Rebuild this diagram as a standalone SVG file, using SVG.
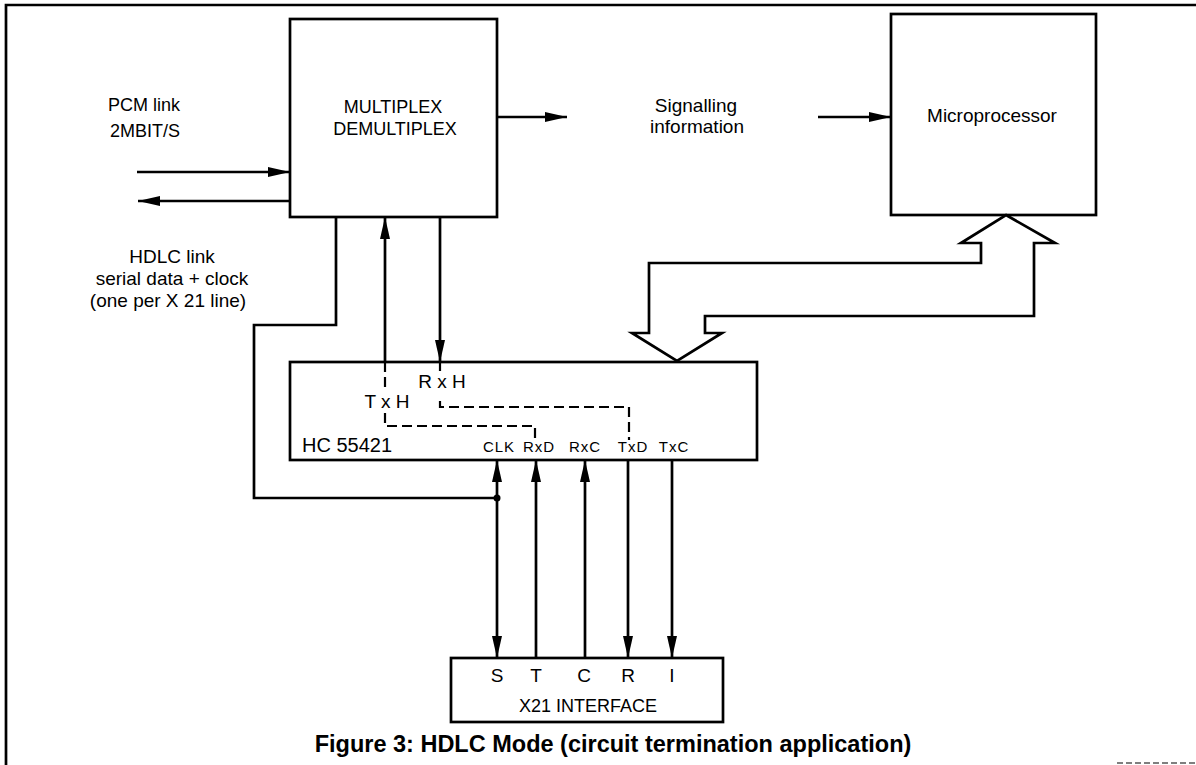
<svg xmlns="http://www.w3.org/2000/svg" width="1196" height="765" viewBox="0 0 1196 765">
<style>
.box{fill:#fff;stroke:#000;stroke-width:2.7}
.ln{fill:none;stroke:#000;stroke-width:2.7}
.dash{fill:none;stroke:#000;stroke-width:2.2;stroke-dasharray:10 5}
.t{font-family:"Liberation Sans",Arial,sans-serif;font-size:19px;fill:#000}
.m{text-anchor:middle}
.pin{font-family:"Liberation Sans",Arial,sans-serif;font-size:15px;fill:#000;letter-spacing:1px}
.cap{font-family:"Liberation Sans",Arial,sans-serif;font-size:23.5px;font-weight:bold;fill:#000;text-anchor:middle}
</style>
<defs>
<marker id="ah" viewBox="0 0 22 10" refX="22" refY="5" markerWidth="22" markerHeight="10" markerUnits="userSpaceOnUse" orient="auto-start-reverse">
<path d="M0,0 L22,5 L0,10 z" fill="#000"/>
</marker>
</defs>
<rect width="1196" height="765" fill="#fff"/>
<g id="frame">
<path d="M6,765 V5 H1196" class="ln"/>
<path d="M1117,763 H1196" fill="none" stroke="#555" stroke-width="1.5" stroke-dasharray="6 3"/>
</g>
<g id="mux">
<rect x="290" y="19" width="207" height="198" class="box"/>
<text x="393" y="113" class="t m" style="font-size:18px">MULTIPLEX</text>
<text x="395" y="135" class="t m" style="font-size:18px">DEMULTIPLEX</text>
</g>
<g id="micro">
<rect x="891" y="14" width="205" height="201" class="box"/>
<text x="992" y="122" class="t m">Microprocessor</text>
</g>
<g id="hc">
<rect x="290" y="362" width="467" height="98" class="box"/>
<text x="302" y="452" class="t" style="font-size:20px">HC 55421</text>
<text x="387" y="408" class="t m">T x H</text>
<text x="442" y="388" class="t m">R x H</text>
<text x="499" y="452" class="pin m">CLK</text>
<text x="539" y="452" class="pin m">RxD</text>
<text x="585" y="452" class="pin m">RxC</text>
<text x="633" y="452" class="pin m">TxD</text>
<text x="674" y="452" class="pin m">TxC</text>
<path d="M385,362 V392 M385,413 V426 H535 V440" class="dash"/>
<path d="M440,362 V371 M440,401 V407 H629 V440" class="dash"/>
</g>
<g id="x21">
<rect x="451" y="658" width="272" height="64" class="box"/>
<text x="497" y="682" class="t m">S</text>
<text x="536" y="682" class="t m">T</text>
<text x="584" y="682" class="t m">C</text>
<text x="628" y="682" class="t m">R</text>
<text x="672" y="682" class="t m">I</text>
<text x="588" y="712" class="t m" style="font-size:18px">X21 INTERFACE</text>
</g>
<g id="labels">
<text x="144" y="111" class="t m" style="font-size:18px">PCM link</text>
<text x="145" y="137" class="t m" style="font-size:18px">2MBIT/S</text>
<text x="172" y="263" class="t m">HDLC link</text>
<text x="172" y="285" class="t m">serial data + clock</text>
<text x="168" y="307" class="t m">(one per X 21 line)</text>
<text x="696" y="112" class="t m">Signalling</text>
<text x="697" y="133" class="t m">information</text>
<text x="845" y="297" class="t m">X21 CONTROL</text>
<text x="613" y="752" class="cap">Figure 3: HDLC Mode (circuit termination application)</text>
</g>
<g id="connectors">
<path d="M137,172 H290" class="ln" marker-end="url(#ah)"/>
<path d="M290,201 H138" class="ln" marker-end="url(#ah)"/>
<path d="M497,117 H567" class="ln" marker-end="url(#ah)"/>
<path d="M818,117 H891" class="ln" marker-end="url(#ah)"/>
<path d="M385,362 V217" class="ln" marker-end="url(#ah)"/>
<path d="M440,217 V362" class="ln" marker-end="url(#ah)"/>
<path d="M336,217 V325 H254 V498 H497" class="ln"/>
<circle cx="497" cy="498" r="3.5" fill="#000"/>
<path d="M497,460 V658" class="ln" marker-start="url(#ah)" marker-end="url(#ah)"/>
<path d="M536,658 V460" class="ln" marker-end="url(#ah)"/>
<path d="M585,658 V460" class="ln" marker-end="url(#ah)"/>
<path d="M628,460 V658" class="ln" marker-end="url(#ah)"/>
<path d="M672,460 V658" class="ln" marker-end="url(#ah)"/>
<path d="M1006,215 L1055,243 L1034,243 L1034,316 L705,316 L705,333 L722,333 L677,361 L632,333 L649,333 L649,263 L981,263 L981,243 L961,243 Z" fill="#fff" stroke="#000" stroke-width="2.7" stroke-linejoin="miter"/>
</g>
</svg>
